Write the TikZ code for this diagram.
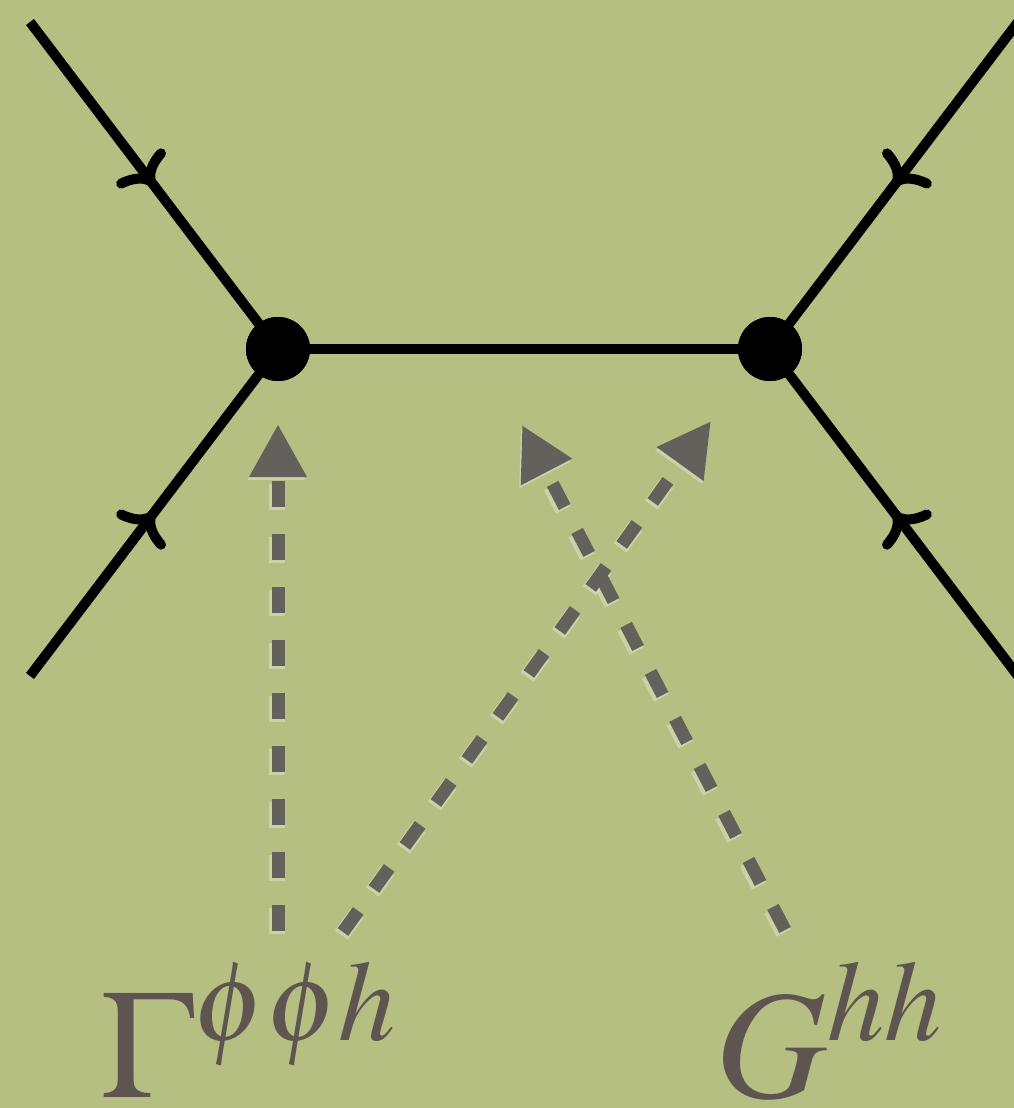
\documentclass[tikz,border=0pt]{standalone}
\usepackage{mathptmx}
\usetikzlibrary{arrows.meta,decorations.markings}
\definecolor{fgbg}{RGB}{181,191,130}
\definecolor{fggray}{RGB}{99,97,91}
\definecolor{fgtext}{RGB}{94,85,80}
\tikzset{
  fline/.style={line width=1mm, black, postaction={decorate},
                decoration={markings, mark=at position 0.5 with {\arrow{Computer Modern Rightarrow[length=2.6mm,width=6mm,line cap=round]}}}},
  vdot/.style={circle, fill=black, inner sep=0pt, minimum size=6.4mm},
  darr/.style={-{Triangle[length=5.3mm,width=5.4mm]}, line width=1.3mm, fggray, dash pattern=on 2.6mm off 2.7mm},
  dglow/.style={darr, white, opacity=0.3, line width=1.6mm, transform canvas={shift={(-0.15mm,-0.3mm)}}},
  lbl/.style={text=fgtext, font=\fontsize{44}{48}\selectfont, inner sep=0pt, anchor=base west},
}

\begin{document}
\begin{tikzpicture}
    \useasboundingbox (0,0) rectangle (10.14,-11.08);
    \fill[fgbg] (0,0) rectangle (10.14,-11.08);
    % vertices and external legs
    \node[vdot] (vl) at (2.78,-3.49) {};
    \node[vdot] (vr) at (7.70,-3.49) {};
    \coordinate (ul) at (0.30,-0.22);\coordinate (ll) at (0.30,-6.76);
    \coordinate (ur) at (10.18,-0.22);\coordinate (lr) at (10.18,-6.76);
    \draw[fline](ul)--(vl.center);\draw[fline](ll)--(vl.center);
    \draw[fline](ur)--(vr.center);\draw[fline](lr)--(vr.center);
    \draw[line width=1mm](vl.center)--(vr.center);
    \node[vdot] at (vl) {};\node[vdot] at (vr) {};
    % labels
    \node[lbl] (gam) at (1.00,-10.97) {$\Gamma^{\phi\phi h}$};
    \node[lbl] (ghh) at (7.15,-10.97) {$G^{hh}$};
    % dashed arrows
    \coordinate (s1) at (2.78,-9.31);\coordinate (t1) at (2.78,-4.24);
    \coordinate (s2) at (3.43,-9.32);\coordinate (t2) at (7.11,-4.21);
    \coordinate (s3) at (7.85,-9.30);\coordinate (t3) at (5.22,-4.25);
    \draw[dglow](s1)--(t1);\draw[dglow](s2)--(t2);\draw[dglow](s3)--(t3);
    \draw[darr](s1)--(t1);\draw[darr](s2)--(t2);\draw[darr](s3)--(t3);
\end{tikzpicture}
\end{document}
